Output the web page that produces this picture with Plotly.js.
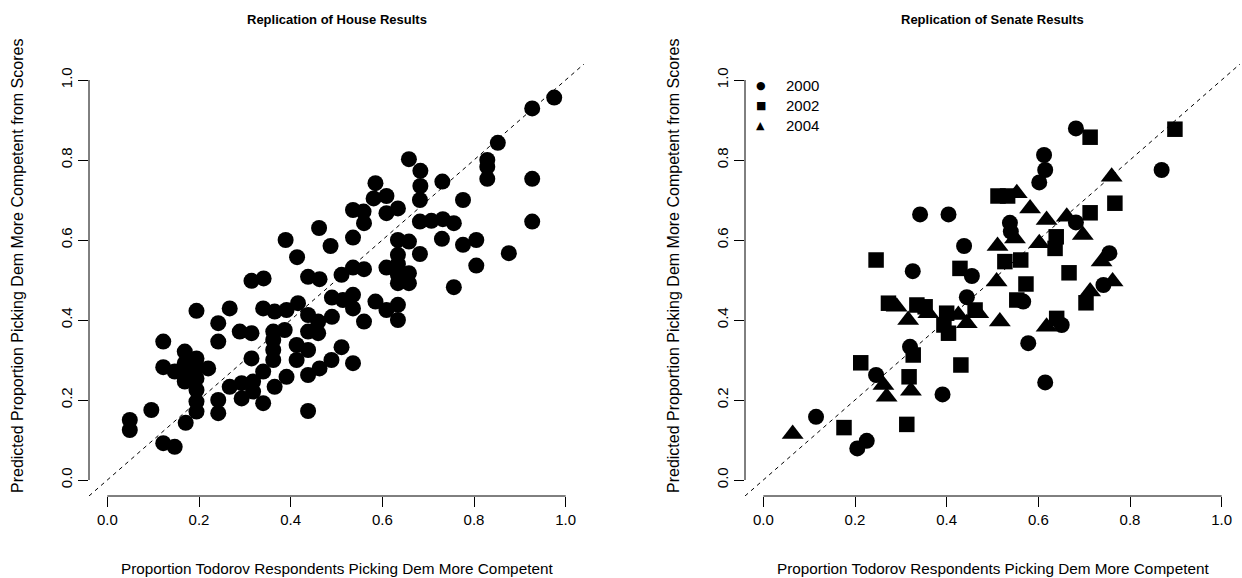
<!DOCTYPE html>
<html><head><meta charset="utf-8">
<script src="https://cdn.plot.ly/plotly-3.0.1.min.js"></script>
<style>html,body{margin:0;padding:0;background:#fff;} #chart{width:1242px;height:578px;}</style>
</head><body><div id="chart"></div>
<script>
// ---- House data ----
const houseX = [
0.975,0.927,0.852,0.829,0.829,0.829,0.927,0.927,0.805,0.658,0.683,0.683,0.682,0.731,0.776,0.585,0.581,0.609,0.634,0.609,
0.536,0.559,0.560,0.462,0.536,0.389,0.487,0.682,0.707,0.732,0.756,0.730,0.776,0.634,0.658,
0.682,0.634,0.634,0.609,0.658,0.634,0.658,0.634,0.756,0.536,0.560,0.511,0.490,0.514,0.536,0.536,0.585,0.609,0.634,0.634,
0.560,0.490,0.511,0.489,0.536,0.876,0.805,
0.414,0.3145,0.341,0.438,0.463,0.1945,0.267,0.340,0.365,0.391,0.416,0.438,0.460,0.242,0.289,0.3145,0.362,0.362,0.362,0.362,
0.387,0.413,0.438,0.413,0.438,0.460,0.463,0.438,0.242,0.3145,0.340,0.391,0.267,0.293,0.318,0.293,0.318,0.340,0.365,0.122,
0.122,0.147,0.169,0.169,0.169,0.169,0.1945,0.1945,0.220,0.1945,0.1945,0.1945,0.1945,0.242,0.242,0.096,0.049,0.049,0.171,0.122,
0.147,0.438];
const houseY = [
0.956,0.929,0.843,0.800,0.783,0.753,0.753,0.646,0.600,0.802,0.773,0.735,0.700,0.746,0.700,0.742,0.704,0.710,0.679,0.667,
0.675,0.671,0.642,0.630,0.606,0.600,0.585,0.646,0.648,0.652,0.642,0.603,0.588,0.600,0.596,
0.565,0.563,0.540,0.531,0.517,0.513,0.492,0.492,0.482,0.531,0.527,0.513,0.456,0.450,0.463,0.429,0.446,0.425,0.438,0.400,
0.396,0.408,0.332,0.300,0.292,0.567,0.536,
0.557,0.498,0.504,0.508,0.502,0.423,0.429,0.429,0.421,0.425,0.442,0.4125,0.396,0.392,0.371,0.367,0.371,0.350,0.325,0.300,
0.375,0.3375,0.325,0.300,0.371,0.367,0.279,0.2625,0.346,0.304,0.271,0.258,0.233,0.242,0.246,0.204,0.221,0.192,0.233,0.346,
0.282,0.271,0.321,0.292,0.267,0.246,0.304,0.283,0.279,0.254,0.225,0.196,0.171,0.200,0.167,0.175,0.150,0.125,0.143,0.092,
0.083,0.1725];

// ---- Senate data ----
const sen2000X = [0.342,0.404,0.438,0.326,0.455,0.682,0.869,0.6125,0.615,0.602,0.682,0.538,0.540,0.755,0.742,0.567,0.651,0.578,0.615,0.444,0.320,0.246,0.391,0.115,0.2256,0.205];
const sen2000Y = [0.664,0.664,0.585,0.522,0.510,0.879,0.775,0.8125,0.775,0.744,0.644,0.643,0.621,0.567,0.4875,0.446,0.3875,0.342,0.244,0.457,0.333,0.2625,0.214,0.158,0.098,0.079];
const sen2002X = [0.246,0.429,0.713,0.898,0.767,0.512,0.533,0.713,0.639,0.6365,0.527,0.5616,0.667,0.573,0.553,0.704,0.640,0.273,0.335,0.353,0.400,0.394,0.404,0.462,0.327,0.2125,0.318,0.431,0.313,0.176];
const sen2002Y = [0.550,0.529,0.857,0.877,0.692,0.710,0.710,0.668,0.608,0.579,0.546,0.550,0.518,0.490,0.450,0.443,0.404,0.442,0.4375,0.433,0.417,0.3875,0.367,0.425,0.3125,0.293,0.258,0.2875,0.139,0.131];
const sen2004X = [0.760,0.553,0.582,0.662,0.618,0.549,0.697,0.602,0.511,0.738,0.509,0.762,0.713,0.516,0.618,0.291,0.360,0.316,0.4255,0.444,0.469,0.262,0.269,0.322,0.064];
const sen2004Y = [0.758,0.717,0.679,0.658,0.650,0.604,0.6125,0.592,0.585,0.546,0.496,0.496,0.471,0.396,0.383,0.433,0.417,0.400,0.4125,0.392,0.417,0.2375,0.208,0.223,0.115];
const senYears = ['2000','2002','2004'];

// ---- ticks / labels ----
const tickVals = [0, 0.2, 0.4, 0.6, 0.8, 1.0];
const tickText = ['0.0','0.2','0.4','0.6','0.8','1.0'];
const axisRange = [-0.04, 1.04];
const titleHouse = 'Replication of House Results';
const titleSenate = 'Replication of Senate Results';
const xLabel = 'Proportion Todorov Respondents Picking Dem More Competent';
const yLabel = 'Predicted Proportion Picking Dem More Competent from Scores';

const W = 1242, H = 578;
const FONT = 'Liberation Sans, Arial, Helvetica, sans-serif';
const fx = p => p / W, fy = p => 1 - p / H;
const leftDom = [89 / W, 584 / W], rightDom = [745 / W, 1240 / W], yDom = [82 / H, 514 / H];

const mk = (sym, size) => ({symbol: sym, size: size, color: '#000', line: {width: 0}});
const traces = [
  {x: houseX, y: houseY, xaxis: 'x', yaxis: 'y', type: 'scatter', mode: 'markers', marker: mk('circle', 16), hoverinfo: 'none'},
  {x: sen2000X, y: sen2000Y, xaxis: 'x2', yaxis: 'y2', type: 'scatter', mode: 'markers', marker: mk('circle', 16), name: senYears[0], hoverinfo: 'none'},
  {x: sen2002X, y: sen2002Y, xaxis: 'x2', yaxis: 'y2', type: 'scatter', mode: 'markers', marker: mk('square', 15.5), name: senYears[1], hoverinfo: 'none'},
  {x: sen2004X, y: sen2004Y, xaxis: 'x2', yaxis: 'y2', type: 'scatter', mode: 'markers', marker: mk('triangle-up', 19), name: senYears[2], hoverinfo: 'none'}
];

function xAx(dom, anchor) {
  return {domain: dom, anchor: anchor, range: axisRange, tickvals: tickVals, ticktext: tickText,
    ticks: 'outside', ticklen: 10, tickwidth: 1, tickcolor: '#000', showline: false, showgrid: false,
    zeroline: false, tickfont: {family: FONT, size: 15, color: '#000'}, automargin: false, fixedrange: true};
}
function yAx(anchor) {
  const a = xAx(yDom, anchor);
  a.tickangle = -90;
  return a;
}

const shapes = [];
[['x', 'y', leftDom], ['x2', 'y2', rightDom]].forEach(([xa, ya, dom]) => {
  shapes.push({type: 'line', xref: xa, yref: 'paper', x0: tickVals[0], x1: tickVals[tickVals.length - 1], y0: yDom[0], y1: yDom[0], line: {color: '#000', width: 1}});
  shapes.push({type: 'line', xref: 'paper', yref: ya, x0: dom[0], x1: dom[0], y0: tickVals[0], y1: tickVals[tickVals.length - 1], line: {color: '#000', width: 1}});
  shapes.push({type: 'line', xref: xa, yref: ya, x0: axisRange[0], y0: axisRange[0], x1: axisRange[1], y1: axisRange[1], line: {color: '#000', width: 1, dash: '4px,4px'}});
});

const ann = (text, x, y, opts) => Object.assign({text: text, xref: 'paper', yref: 'paper', x: fx(x), y: fy(y), showarrow: false,
  xanchor: 'center', yanchor: 'middle', font: {family: FONT, size: 15, color: '#000'}}, opts || {});
const annotations = [
  ann('<b>' + titleHouse + '</b>', 336.5, 20, {font: {family: FONT, size: 13, color: '#000'}}),
  ann('<b>' + titleSenate + '</b>', 992.5, 20, {font: {family: FONT, size: 13, color: '#000'}}),
  ann(xLabel, 336.5, 568, {font: {family: FONT, size: 15.3, color: '#000'}}),
  ann(xLabel, 992.5, 568, {font: {family: FONT, size: 15.3, color: '#000'}}),
  ann(yLabel, 18, 266, {textangle: -90, font: {family: FONT, size: 16, color: '#000'}}),
  ann(yLabel, 674, 266, {textangle: -90, font: {family: FONT, size: 16, color: '#000'}}),
  ann('●', 760.7, 85, {font: {family: 'DejaVu Sans', size: 11, color: '#000'}}),
  ann('■', 760.7, 105.7, {font: {family: 'DejaVu Sans', size: 11, color: '#000'}}),
  ann('▲', 760.7, 125.7, {font: {family: 'DejaVu Sans', size: 11, color: '#000'}}),
  ann(senYears[0], 784, 85, {xanchor: 'left'}),
  ann(senYears[1], 784, 105.7, {xanchor: 'left'}),
  ann(senYears[2], 784, 125.7, {xanchor: 'left'})
];

const layout = {
  width: W, height: H, margin: {l: 0, r: 0, t: 0, b: 0}, showlegend: false,
  paper_bgcolor: '#fff', plot_bgcolor: '#fff',
  xaxis: xAx(leftDom, 'y'), yaxis: yAx('x'),
  xaxis2: xAx(rightDom, 'y2'), yaxis2: yAx('x2'),
  shapes: shapes, annotations: annotations
};
Plotly.newPlot('chart', traces, layout, {staticPlot: true, displayModeBar: false});
</script>
</body></html>
